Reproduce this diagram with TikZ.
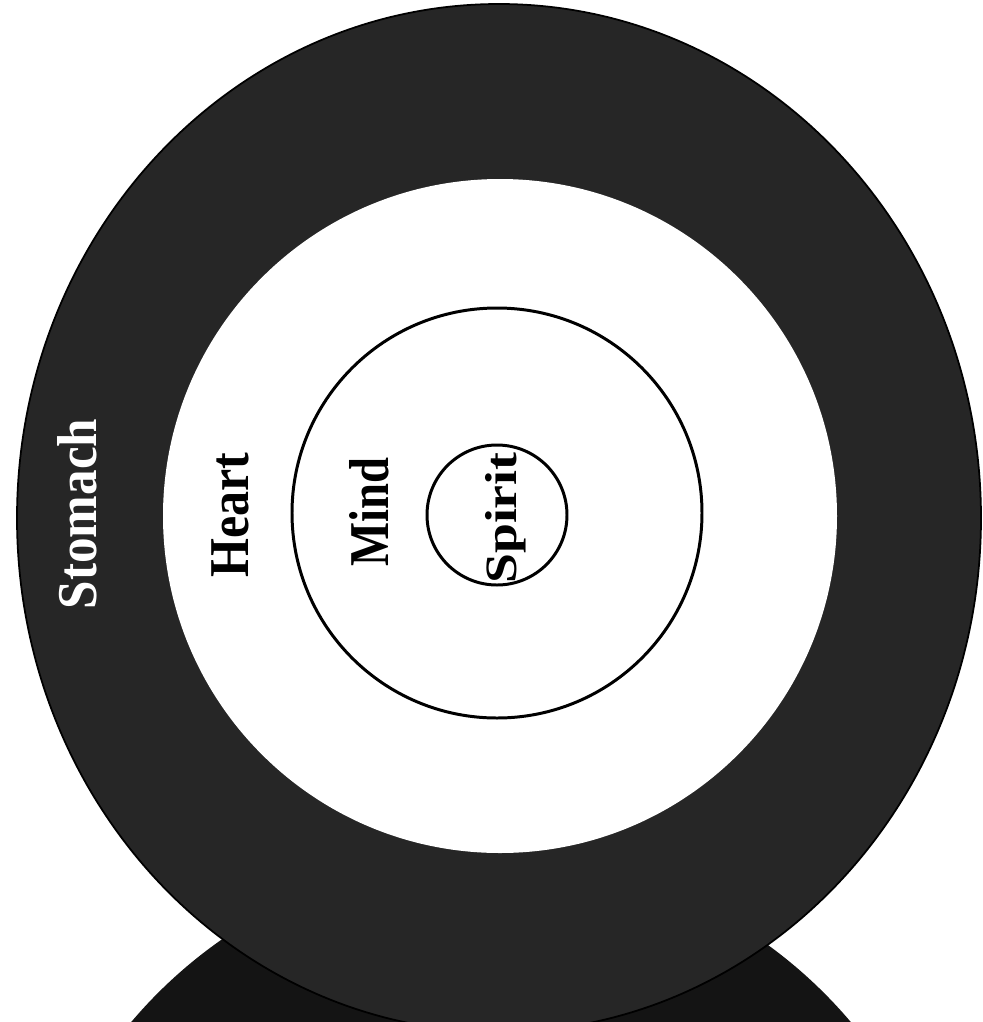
\documentclass[tikz,border=0pt]{standalone}
\usepackage{fontspec}
\setmainfont{Liberation Serif}
\usepackage{xcolor}
\usepackage{tikz}
\definecolor{ringgray}{HTML}{262626}
\definecolor{basegray}{HTML}{141414}

\begin{document}
\begin{tikzpicture}[x=0.02cm, y=-0.02cm,
  ring/.style={line width=1.7pt, draw=black},
  lbl/.style={rotate=90, inner sep=0pt, font=\bfseries\fontsize{32}{32}\selectfont}]
  \useasboundingbox (0,0) rectangle (983,1022);
  \clip (0,0) rectangle (983,1022);

  % Base disc at the bottom
  \fill[basegray] (491,1326) circle (471);

  % Outer ring and the white field inside it
  \filldraw[fill=ringgray, draw=black, line width=1pt] (499,518) ellipse (482 and 514);
  \fill[white] (500,516) circle (337);

  % Inner circles
  \draw[ring] (497,513) circle (205);
  \draw[ring] (497,515) circle (70);

  % Labels
  \node[lbl, text=white] (stomach) at (77,514) {\scalebox{0.91}[1]{Stomach}};
  \node[lbl] (heart) at (230,515) {\scalebox{0.89}[1]{Heart}};
  \node[lbl] (mind) at (369,512) {\scalebox{0.83}[1]{Mind}};
  \node[lbl, font=\bfseries\fontsize{25.5}{25.5}\selectfont] (spirit) at (506,518) {\scalebox{1.2}[1]{Spirit}};
\end{tikzpicture}
\end{document}
